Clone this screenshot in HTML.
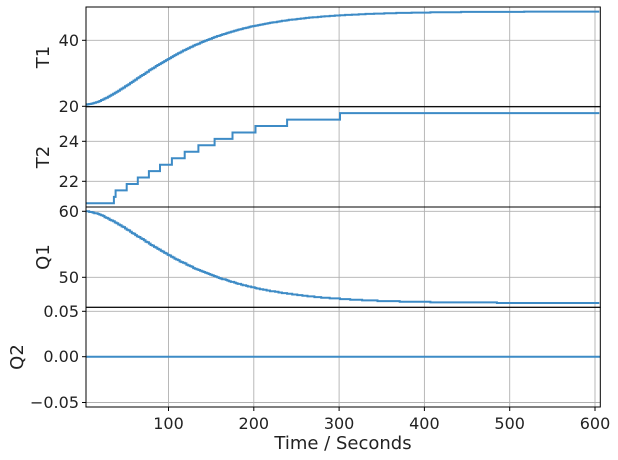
<!DOCTYPE html>
<html><head><meta charset="utf-8"><style>
html,body{margin:0;padding:0;background:#fff}
svg{display:block;font-family:"DejaVu Sans","Liberation Sans",sans-serif}
</style></head><body>
<svg id="s" width="618" height="460" xmlns="http://www.w3.org/2000/svg">
<rect width="618" height="460" fill="#fff"/>
<g id="grid" stroke="#b0b0b0" stroke-width="0.9"></g>
<g id="lines" fill="none" stroke="#3d8bc6" stroke-width="2"></g>
<g id="frames" fill="none" stroke="#000" stroke-width="1"></g>
<g id="txt" fill="#222" font-size="16"></g>
</svg>
<script>
var L=86,R=600.3;
function X(t){return 83.2+0.853*t;}
var P=[[7,106.7],[106.7,207],[207,307.3],[307.3,407]];
var g=document.getElementById('grid'),ln=document.getElementById('lines'),fr=document.getElementById('frames'),tx=document.getElementById('txt');
var NS='http://www.w3.org/2000/svg';
function el(p,n,a,t){var e=document.createElementNS(NS,n);for(var k in a)e.setAttribute(k,a[k]);if(t!==undefined)e.textContent=t;p.appendChild(e);return e;}
var xt=[100,200,300,400,500,600];
P.forEach(function(p){xt.forEach(function(t){el(g,'line',{x1:X(t),x2:X(t),y1:p[0],y2:p[1]});});});
var yg=[[40.3,106.3],[141.3,181.3],[211.3,277.3],[311.3,356.7,402.5]];
yg.forEach(function(a){a.forEach(function(y){el(g,'line',{x1:L,x2:R,y1:y,y2:y});});});
P.forEach(function(p){el(fr,'rect',{x:L,y:p[0],width:R-L,height:p[1]-p[0]});});
function yl(y,s){el(tx,'text',{x:79,y:y+5.5,'text-anchor':'end'},s);el(fr,'line',{x1:L-4,x2:L,y1:y,y2:y});}
yl(40.3,'40');yl(106.3,'20');yl(141.3,'24');yl(181.3,'22');yl(211.3,'60');yl(277.3,'50');
yl(311.3,'0.05');yl(356.7,'0.00');yl(402.5,'\u22120.05');
xt.forEach(function(t){el(tx,'text',{x:X(t),y:429,'text-anchor':'middle'},String(t));el(fr,'line',{x1:X(t),x2:X(t),y1:407,y2:411});});
function yL(x,y,s){el(tx,'text',{x:x,y:y,'text-anchor':'middle','font-size':18,transform:'rotate(-90 '+x+' '+y+')'},s);}
yL(49,57,'T1');yL(49,157,'T2');yL(49,257,'Q1');yL(23,357,'Q2');
el(tx,'text',{x:343,y:449,'text-anchor':'middle','font-size':18},'Time / Seconds');
function s2(t,tau){var u=t/tau;return 1-(1+u)*Math.exp(-u);}
var d='',t;
for(t=3;t<=605;t+=2){var v=20.5+28.2*s2(t,60);v=Math.round(v*10)/10;var y=106.3-(v-20)*3.3;d+=(t==3?'M'+X(t).toFixed(1)+','+y.toFixed(1):'H'+X(t).toFixed(1)+'V'+y.toFixed(1));}
el(ln,'path',{d:d});
d='';
for(t=3;t<=605;t+=1){var v=20.9+4.65*s2(t,68);var q=Math.round((v-20.9)/0.322)*0.322+20.9;if(t<36)q=20.9;var y=181.3-(q-22)*20;d+=(t==3?'M'+X(t).toFixed(1)+','+y.toFixed(1):'H'+X(t).toFixed(1)+'V'+y.toFixed(1));}
el(ln,'path',{d:d});
d='';
for(t=3;t<=605;t+=2){var v=60-13.9*s2(t,62);v=Math.round(v*10)/10;var y=277.3-(v-50)*6.6;d+=(t==3?'M'+X(t).toFixed(1)+','+y.toFixed(1):'H'+X(t).toFixed(1)+'V'+y.toFixed(1));}
el(ln,'path',{d:d});
el(ln,'line',{x1:L,x2:R,y1:356.7,y2:356.7});
</script>
</body></html>
